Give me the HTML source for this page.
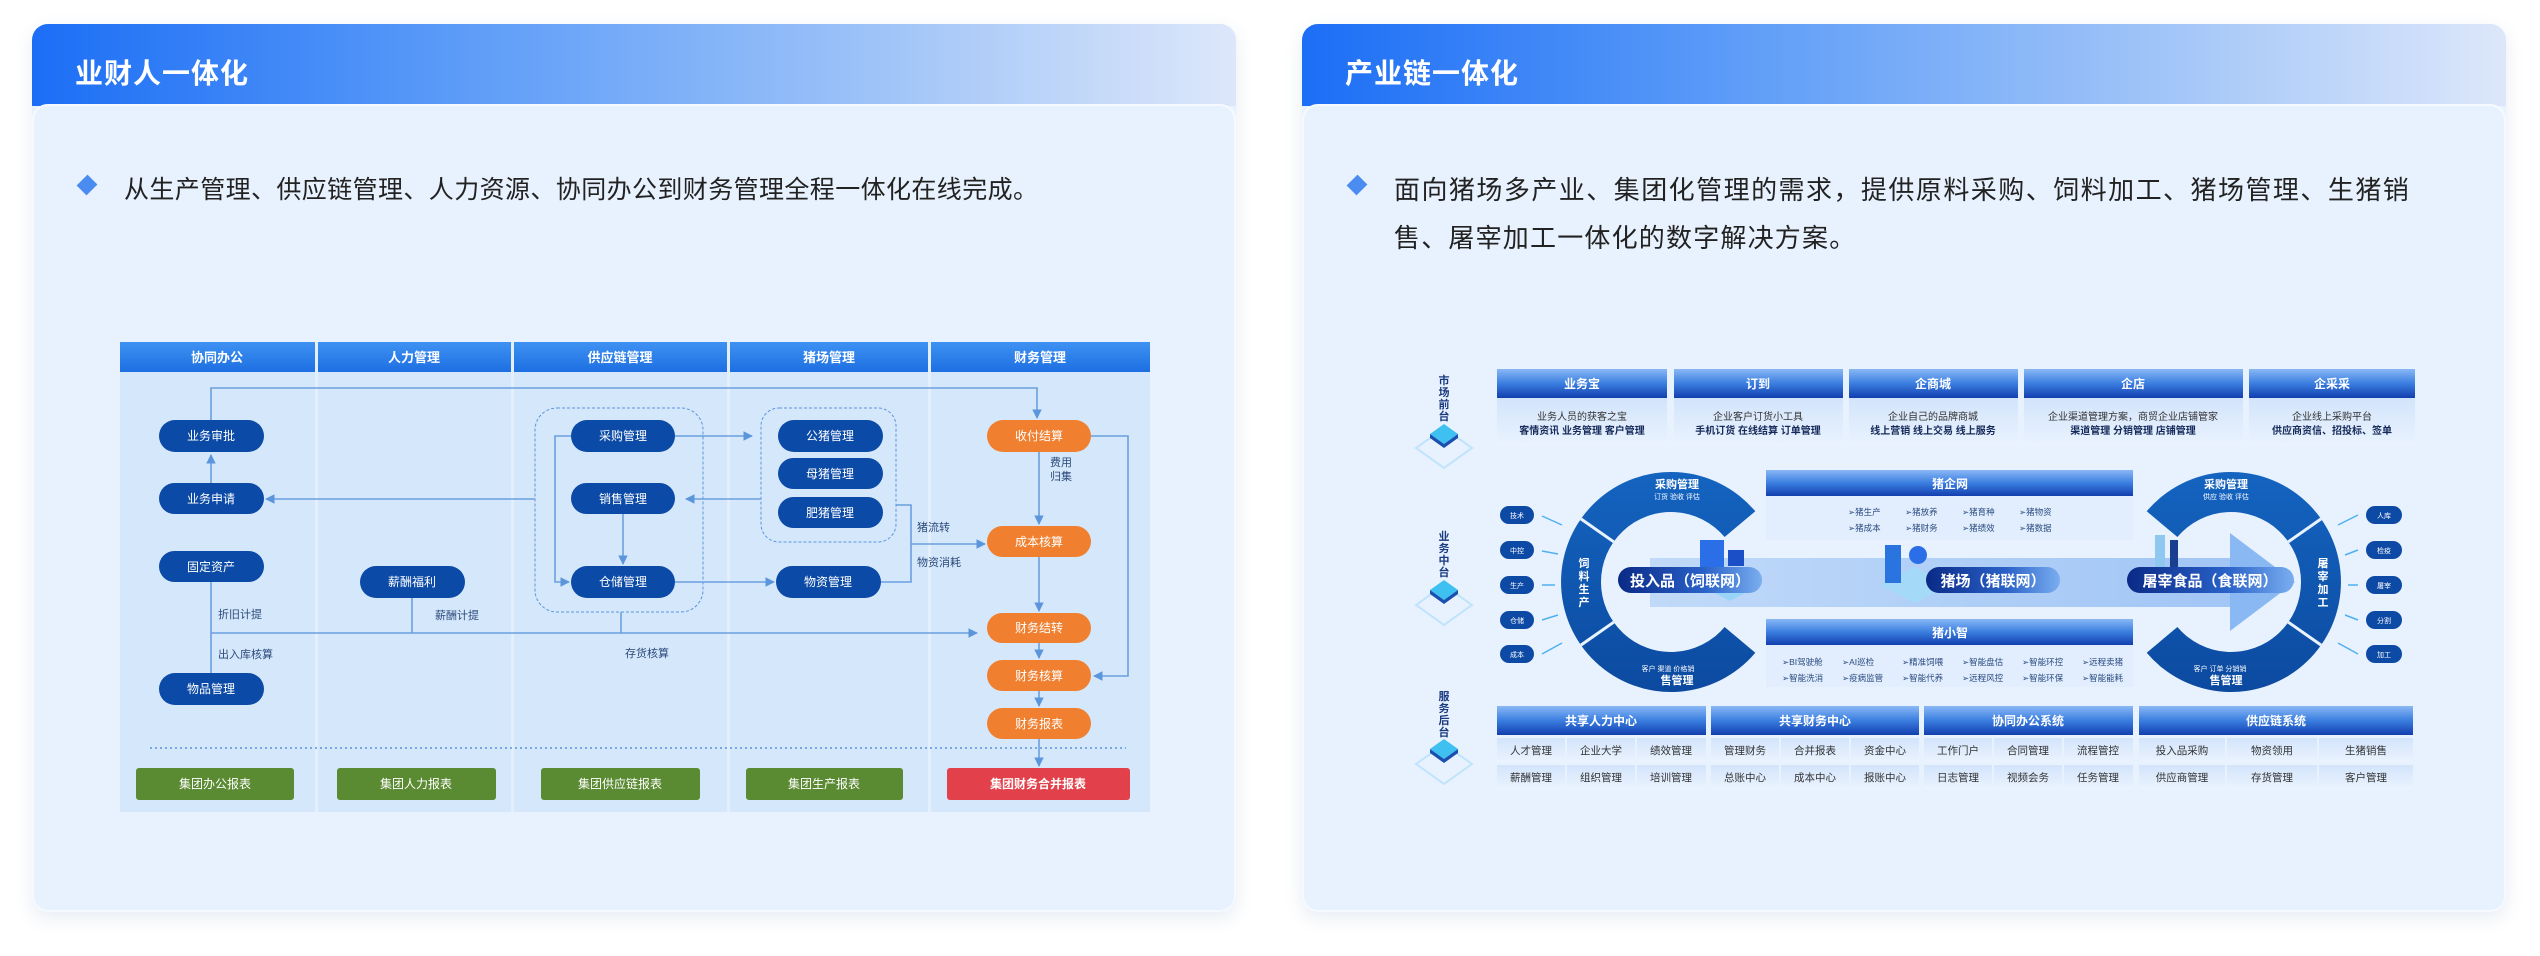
<!DOCTYPE html>
<html><head><meta charset="utf-8"><style>
*{margin:0;padding:0;box-sizing:border-box}
body{width:2540px;height:956px;background:#fff;position:relative;overflow:hidden;font-family:"Liberation Sans","Noto Sans CJK SC",sans-serif}
.card{position:absolute;top:24px;width:1204px;height:888px;border-radius:16px;background:#e9f3fe;box-shadow:0 6px 18px rgba(60,100,160,.12);overflow:hidden}
.hd{height:82px;background:linear-gradient(90deg,#1c6ef6 0%,#5b9bf8 35%,#9ec3f8 70%,#dde7fa 100%);color:#fff;font-size:28px;font-weight:bold;padding:28px 0 0 43px;letter-spacing:1px}
.bd{position:absolute;top:80px;left:0;right:0;bottom:0;background:#e8f2fe;border-radius:16px 16px 16px 16px;border:2px solid #f6faff}
.txt{position:absolute;left:90px;top:60px;font-size:25px;letter-spacing:0.4px;color:#222;line-height:48px;width:1016px;text-align:justify}
.txt.r{font-size:26px;letter-spacing:1.2px}
.dia{position:absolute;left:46px;top:72px;width:14px;height:14px;background:#4b8cf0;transform:rotate(45deg) scaleY(1.1)}
svg{position:absolute;left:0;top:0}
</style></head><body>
<div class="card" style="left:32px"><div class="hd">业财人一体化</div><div class="bd"><div class="dia"></div><div class="txt">从生产管理、供应链管理、人力资源、协同办公到财务管理全程一体化在线完成。</div></div></div>
<div class="card" style="left:1302px"><div class="hd">产业链一体化</div><div class="bd"><div class="dia"></div><div class="txt r">面向猪场多产业、集团化管理的需求，提供原料采购、饲料加工、猪场管理、生猪销售、屠宰加工一体化的数字解决方案。</div></div></div>

<svg width="2540" height="956" viewBox="0 0 2540 956" font-family="Liberation Sans, Noto Sans CJK SC, sans-serif">
<defs>
<linearGradient id="hb" x1="0" y1="0" x2="0" y2="1"><stop offset="0" stop-color="#3f92f2"/><stop offset="1" stop-color="#1d6fe2"/></linearGradient>
<linearGradient id="bh" x1="0" y1="0" x2="0" y2="1"><stop offset="0" stop-color="#8ab8f6"/><stop offset=".5" stop-color="#3a7ee0"/><stop offset="1" stop-color="#133fae"/></linearGradient>
<linearGradient id="cell" x1="0" y1="0" x2="0" y2="1"><stop offset="0" stop-color="#d2e4fb"/><stop offset="1" stop-color="#eaf3fe"/></linearGradient>
<linearGradient id="ring" x1="0" y1="0" x2="0" y2="1"><stop offset="0" stop-color="#1464c0"/><stop offset="1" stop-color="#0c4aa0"/></linearGradient>
<linearGradient id="pill" x1="0" y1="0" x2="1" y2="0"><stop offset="0" stop-color="#0a2a86"/><stop offset=".6" stop-color="#2a62c8"/><stop offset="1" stop-color="#7aaef0"/></linearGradient>
<linearGradient id="band" x1="0" y1="0" x2="1" y2="0"><stop offset="0" stop-color="#b6d3f7"/><stop offset="1" stop-color="#8fbaf3"/></linearGradient>
<marker id="ar" viewBox="0 0 10 10" refX="9" refY="5" markerWidth="6" markerHeight="6" orient="auto"><path d="M0,0L10,5L0,10z" fill="#5b95dc"/></marker>
</defs>

<g>
<rect x="120" y="342" width="1030" height="470" fill="#e4effc"/>
<g fill="#d5e7fb">
<rect x="120" y="372" width="195" height="440"/><rect x="318" y="372" width="193" height="440"/><rect x="514" y="372" width="213" height="440"/><rect x="730" y="372" width="198" height="440"/><rect x="931" y="372" width="219" height="440"/>
</g>
<g fill="url(#hb)">
<rect x="120" y="342" width="195" height="30"/><rect x="318" y="342" width="193" height="30"/><rect x="514" y="342" width="213" height="30"/><rect x="730" y="342" width="198" height="30"/><rect x="931" y="342" width="219" height="30"/>
</g>
<g fill="#fff" font-size="13" font-weight="bold" text-anchor="middle">
<text x="217" y="362">协同办公</text><text x="414" y="362">人力管理</text><text x="620" y="362">供应链管理</text><text x="829" y="362">猪场管理</text><text x="1040" y="362">财务管理</text>
</g>
<rect x="535" y="408" width="168" height="204" rx="22" fill="none" stroke="#5b95dc" stroke-dasharray="3,2"/>
<rect x="761" y="408" width="135" height="134" rx="18" fill="none" stroke="#5b95dc" stroke-dasharray="3,2"/>
<g stroke="#6aa0e0" stroke-width="1.6" fill="none">
<path d="M211 420V388H1037V418" marker-end="url(#ar)"/>
<path d="M211 483V455" marker-end="url(#ar)"/>
<path d="M535 499H266" marker-end="url(#ar)"/>
<path d="M761 499H686" marker-end="url(#ar)"/>
<path d="M675 436H752" marker-end="url(#ar)"/>
<path d="M571 436H555V582H569" marker-end="url(#ar)"/>
<path d="M623 514V564" marker-end="url(#ar)"/>
<path d="M675 582H774" marker-end="url(#ar)"/>
<path d="M896 505H911V582H881"/>
<path d="M911 544H985" marker-end="url(#ar)"/>
<path d="M1039 452V524" marker-end="url(#ar)"/>
<path d="M1039 557V611" marker-end="url(#ar)"/>
<path d="M1039 643V658" marker-end="url(#ar)"/>
<path d="M1039 691V706" marker-end="url(#ar)"/>
<path d="M1039 739V766" marker-end="url(#ar)"/>
<path d="M1091 436H1128V676H1094" marker-end="url(#ar)"/>
<path d="M211 582V673"/>
<path d="M211 633H977" marker-end="url(#ar)"/>
<path d="M412 598V633"/>
<path d="M621 612V633"/>
</g>
<line x1="150" y1="748" x2="1126" y2="748" stroke="#7aa8e4" stroke-width="2" stroke-dasharray="2,3"/>
<g fill="#2a4a7a" font-size="11">
<text x="218" y="618">折旧计提</text><text x="218" y="658">出入库核算</text><text x="435" y="619">薪酬计提</text><text x="625" y="657">存货核算</text>
<text x="917" y="531">猪流转</text><text x="917" y="566">物资消耗</text><text x="1050" y="466">费用</text><text x="1050" y="480">归集</text>
</g>
<g fill="#0b4aa6">
<rect x="159" y="420" width="105" height="32" rx="16"/><rect x="159" y="483" width="105" height="31" rx="15.5"/><rect x="159" y="551" width="105" height="31" rx="15.5"/><rect x="159" y="673" width="105" height="32" rx="16"/>
<rect x="360" y="566" width="105" height="32" rx="16"/>
<rect x="571" y="420" width="104" height="32" rx="16"/><rect x="571" y="483" width="104" height="31" rx="15.5"/><rect x="571" y="566" width="104" height="32" rx="16"/>
<rect x="778" y="420" width="105" height="32" rx="16"/><rect x="778" y="458" width="105" height="31" rx="15.5"/><rect x="778" y="497" width="105" height="31" rx="15.5"/><rect x="776" y="566" width="105" height="32" rx="16"/>
</g>
<g fill="#f08030">
<rect x="987" y="420" width="104" height="32" rx="16"/><rect x="987" y="526" width="104" height="31" rx="15.5"/><rect x="987" y="613" width="104" height="30" rx="15"/><rect x="987" y="660" width="104" height="31" rx="15.5"/><rect x="987" y="708" width="104" height="31" rx="15.5"/>
</g>
<g fill="#5a8a32"><rect x="136" y="768" width="158" height="32" rx="3"/><rect x="337" y="768" width="159" height="32" rx="3"/><rect x="541" y="768" width="159" height="32" rx="3"/><rect x="746" y="768" width="157" height="32" rx="3"/></g>
<rect x="947" y="768" width="183" height="32" rx="3" fill="#e2404a"/>
<g fill="#fff" font-size="12" text-anchor="middle">
<text x="211" y="440">业务审批</text><text x="211" y="503">业务申请</text><text x="211" y="571">固定资产</text><text x="211" y="693">物品管理</text>
<text x="412" y="586">薪酬福利</text>
<text x="623" y="440">采购管理</text><text x="623" y="503">销售管理</text><text x="623" y="586">仓储管理</text>
<text x="830" y="440">公猪管理</text><text x="830" y="478">母猪管理</text><text x="830" y="517">肥猪管理</text><text x="828" y="586">物资管理</text>
<text x="1039" y="440">收付结算</text><text x="1039" y="546">成本核算</text><text x="1039" y="632">财务结转</text><text x="1039" y="680">财务核算</text><text x="1039" y="728">财务报表</text>
<text x="215" y="788">集团办公报表</text><text x="416" y="788">集团人力报表</text><text x="620" y="788">集团供应链报表</text><text x="824" y="788">集团生产报表</text><text x="1038" y="788" font-weight="bold">集团财务合并报表</text>
</g>
</g>

<g>
<g fill="#1a3a80" font-size="11" font-weight="bold" text-anchor="middle">
<text x="1444" y="384">市</text><text x="1444" y="396">场</text><text x="1444" y="408">前</text><text x="1444" y="420">台</text>
<text x="1444" y="540">业</text><text x="1444" y="552">务</text><text x="1444" y="564">中</text><text x="1444" y="576">台</text>
<text x="1444" y="700">服</text><text x="1444" y="712">务</text><text x="1444" y="724">后</text><text x="1444" y="736">台</text>
</g>
<g>
<path d="M1444 428l28 20-28 20-28-20z" fill="none" stroke="#bfe4fb" stroke-width="2"/><path d="M1444 424l14 10-14 10-14-10z" fill="#3ec0f0"/><path d="M1430 434l14 10 14-10v4l-14 10-14-10z" fill="#1a4fb0"/>
<path d="M1444 585l28 20-28 20-28-20z" fill="none" stroke="#bfe4fb" stroke-width="2"/><path d="M1444 580l14 10-14 10-14-10z" fill="#3ec0f0"/><path d="M1430 590l14 10 14-10v4l-14 10-14-10z" fill="#1a4fb0"/>
<path d="M1444 744l28 20-28 20-28-20z" fill="none" stroke="#bfe4fb" stroke-width="2"/><path d="M1444 739l14 10-14 10-14-10z" fill="#3ec0f0"/><path d="M1430 749l14 10 14-10v4l-14 10-14-10z" fill="#1a4fb0"/>
</g>
<g fill="url(#cell)"><rect x="1497" y="398" width="170" height="48"/><rect x="1674" y="398" width="169" height="48"/><rect x="1849" y="398" width="169" height="48"/><rect x="2024" y="398" width="219" height="48"/><rect x="2249" y="398" width="166" height="48"/></g>
<g fill="url(#bh)"><rect x="1497" y="369" width="170" height="29"/><rect x="1674" y="369" width="169" height="29"/><rect x="1849" y="369" width="169" height="29"/><rect x="2024" y="369" width="219" height="29"/><rect x="2249" y="369" width="166" height="29"/></g>
<g fill="#fff" font-size="12" font-weight="bold" text-anchor="middle"><text x="1582" y="388">业务宝</text><text x="1758" y="388">订到</text><text x="1933" y="388">企商城</text><text x="2133" y="388">企店</text><text x="2332" y="388">企采采</text></g>
<g fill="#333" font-size="10" text-anchor="middle"><text x="1582" y="420">业务人员的获客之宝</text><text x="1758" y="420">企业客户订货小工具</text><text x="1933" y="420">企业自己的品牌商城</text><text x="2133" y="420">企业渠道管理方案，商贸企业店铺管家</text><text x="2332" y="420">企业线上采购平台</text></g>
<g fill="#162a5a" font-size="10" font-weight="bold" text-anchor="middle"><text x="1582" y="434">客情资讯 业务管理 客户管理</text><text x="1758" y="434">手机订货 在线结算 订单管理</text><text x="1933" y="434">线上营销 线上交易 线上服务</text><text x="2133" y="434">渠道管理 分销管理 店铺管理</text><text x="2332" y="434">供应商资信、招投标、签单</text></g>
<rect x="1766" y="496" width="367" height="44" fill="#e2eefd"/>
<rect x="1766" y="645" width="367" height="42" fill="#e2eefd"/>
<rect x="1650" y="558" width="590" height="49" fill="url(#band)" opacity=".8"/>
<path d="M2230 533L2295 582L2230 631z" fill="#8ab8f3"/>
<path d="M1755.3 511.3A110 110 0 1 0 1755.3 652.7L1724.6 627A70 70 0 1 1 1724.6 537Z" fill="url(#ring)"/>
<path d="M2146.7 511.3A110 110 0 1 1 2146.7 652.7L2177.4 627A70 70 0 1 0 2177.4 537Z" fill="url(#ring)"/>
<g stroke="#e9f3fe" stroke-width="3"><line x1="1613.7" y1="622.2" x2="1580.9" y2="645.1"/><line x1="1613.7" y1="541.8" x2="1580.9" y2="518.9"/><line x1="2288.3" y1="622.2" x2="2321.1" y2="645.1"/><line x1="2288.3" y1="541.8" x2="2321.1" y2="518.9"/></g>
<g fill="#fff" text-anchor="middle">
<text x="1677" y="488" font-size="11" font-weight="bold">采购管理</text><text x="1677" y="499" font-size="7">订货 验收 评估</text>
<text x="1668" y="671" font-size="7">客户 渠道 价格销</text><text x="1677" y="684" font-size="11" font-weight="bold">售管理</text>
<text x="2226" y="488" font-size="11" font-weight="bold">采购管理</text><text x="2226" y="499" font-size="7">供应 验收 评估</text>
<text x="2220" y="671" font-size="7">客户 订单 分销销</text><text x="2226" y="684" font-size="11" font-weight="bold">售管理</text>
<g font-size="11" font-weight="bold"><text x="1584" y="567">饲</text><text x="1584" y="580">料</text><text x="1584" y="593">生</text><text x="1584" y="606">产</text>
<text x="2323" y="567">屠</text><text x="2323" y="580">宰</text><text x="2323" y="593">加</text><text x="2323" y="606">工</text></g>
</g>
<rect x="1766" y="470" width="367" height="26" fill="url(#bh)"/><rect x="1766" y="619" width="367" height="26" fill="url(#bh)"/>
<g fill="#fff" font-size="12" font-weight="bold" text-anchor="middle"><text x="1950" y="488">猪企网</text><text x="1950" y="637">猪小智</text></g>
<g fill="#2a4a80" font-size="8.5">
<text x="1848" y="515">➢猪生产</text><text x="1905" y="515">➢猪放养</text><text x="1962" y="515">➢猪育种</text><text x="2019" y="515">➢猪物资</text>
<text x="1848" y="531">➢猪成本</text><text x="1905" y="531">➢猪财务</text><text x="1962" y="531">➢猪绩效</text><text x="2019" y="531">➢猪数据</text>
<text x="1782" y="665">➢BI驾驶舱</text><text x="1842" y="665">➢AI巡检</text><text x="1902" y="665">➢精准饲喂</text><text x="1962" y="665">➢智能盘估</text><text x="2022" y="665">➢智能环控</text><text x="2082" y="665">➢远程卖猪</text>
<text x="1782" y="681">➢智能洗消</text><text x="1842" y="681">➢疫病监管</text><text x="1902" y="681">➢智能代养</text><text x="1962" y="681">➢远程风控</text><text x="2022" y="681">➢智能环保</text><text x="2082" y="681">➢智能能耗</text>
</g>
<path d="M1700 585l30-16 30 16-30 16z" fill="#8fd3f7" opacity=".8"/><rect x="1700" y="540" width="24" height="34" fill="#2a6ee8"/><rect x="1728" y="550" width="16" height="16" fill="#1a4fc8"/>
<path d="M1880 585l35-18 35 18-35 18z" fill="#a0dcf8" opacity=".8"/><rect x="1885" y="545" width="16" height="38" fill="#2a74e0"/><circle cx="1918" cy="555" r="9" fill="#2a6ee8"/>
<rect x="2155" y="535" width="10" height="36" fill="#8ec8f0"/><rect x="2170" y="540" width="8" height="32" fill="#1a3f90"/>
<rect x="1618" y="567" width="144" height="26" rx="13" fill="url(#pill)"/><rect x="1926" y="567" width="134" height="26" rx="13" fill="url(#pill)"/><rect x="2127" y="567" width="167" height="26" rx="13" fill="url(#pill)"/>
<g fill="#fff" font-size="15" font-weight="bold" text-anchor="middle"><text x="1690" y="586">投入品（饲联网）</text><text x="1993" y="586">猪场（猪联网）</text><text x="2210" y="586">屠宰食品（食联网）</text></g>
<g fill="#0d4aa6"><rect x="1500" y="506" width="34" height="18" rx="9"/><rect x="1500" y="541" width="34" height="18" rx="9"/><rect x="1500" y="576" width="34" height="18" rx="9"/><rect x="1500" y="611" width="34" height="18" rx="9"/><rect x="1500" y="645" width="34" height="18" rx="9"/>
<rect x="2366" y="506" width="36" height="18" rx="9"/><rect x="2366" y="541" width="36" height="18" rx="9"/><rect x="2366" y="576" width="36" height="18" rx="9"/><rect x="2366" y="611" width="36" height="18" rx="9"/><rect x="2366" y="645" width="36" height="18" rx="9"/></g>
<g fill="#fff" font-size="7" text-anchor="middle"><text x="1517" y="518">技术</text><text x="1517" y="553">中控</text><text x="1517" y="588">生产</text><text x="1517" y="623">仓储</text><text x="1517" y="657">成本</text>
<text x="2384" y="518">人库</text><text x="2384" y="553">检疫</text><text x="2384" y="588">屠宰</text><text x="2384" y="623">分割</text><text x="2384" y="657">加工</text></g>
<g stroke="#4fb0f0" stroke-width="1.5"><line x1="1562" y1="525" x2="1542" y2="516"/><line x1="1558" y1="554" x2="1542" y2="551"/><line x1="1555" y1="585" x2="1542" y2="585"/><line x1="1558" y1="615" x2="1542" y2="620"/><line x1="1562" y1="643" x2="1542" y2="654"/>
<line x1="2338" y1="525" x2="2358" y2="515"/><line x1="2345" y1="555" x2="2358" y2="550"/><line x1="2348" y1="585" x2="2358" y2="585"/><line x1="2345" y1="615" x2="2358" y2="620"/><line x1="2338" y1="643" x2="2358" y2="654"/></g>
<g fill="url(#bh)"><rect x="1497" y="706" width="209" height="29"/><rect x="1711" y="706" width="208" height="29"/><rect x="1924" y="706" width="209" height="29"/><rect x="2139" y="706" width="274" height="29"/></g>
<g fill="#fff" font-size="12" font-weight="bold" text-anchor="middle"><text x="1601" y="725">共享人力中心</text><text x="1815" y="725">共享财务中心</text><text x="2028" y="725">协同办公系统</text><text x="2276" y="725">供应链系统</text></g>
<g fill="url(#cell)">
<rect x="1497" y="738" width="68" height="24"/><rect x="1567" y="738" width="68" height="24"/><rect x="1637" y="738" width="69" height="24"/><rect x="1711" y="738" width="68" height="24"/><rect x="1781" y="738" width="68" height="24"/><rect x="1851" y="738" width="68" height="24"/><rect x="1924" y="738" width="68" height="24"/><rect x="1994" y="738" width="68" height="24"/><rect x="2064" y="738" width="69" height="24"/><rect x="2139" y="738" width="86" height="24"/><rect x="2227" y="738" width="90" height="24"/><rect x="2319" y="738" width="94" height="24"/>
<rect x="1497" y="765" width="68" height="24"/><rect x="1567" y="765" width="68" height="24"/><rect x="1637" y="765" width="69" height="24"/><rect x="1711" y="765" width="68" height="24"/><rect x="1781" y="765" width="68" height="24"/><rect x="1851" y="765" width="68" height="24"/><rect x="1924" y="765" width="68" height="24"/><rect x="1994" y="765" width="68" height="24"/><rect x="2064" y="765" width="69" height="24"/><rect x="2139" y="765" width="86" height="24"/><rect x="2227" y="765" width="90" height="24"/><rect x="2319" y="765" width="94" height="24"/>
</g>
<g fill="#333" font-size="10.5" text-anchor="middle">
<text x="1531" y="754">人才管理</text><text x="1601" y="754">企业大学</text><text x="1671" y="754">绩效管理</text><text x="1745" y="754">管理财务</text><text x="1815" y="754">合并报表</text><text x="1885" y="754">资金中心</text><text x="1958" y="754">工作门户</text><text x="2028" y="754">合同管理</text><text x="2098" y="754">流程管控</text><text x="2182" y="754">投入品采购</text><text x="2272" y="754">物资领用</text><text x="2366" y="754">生猪销售</text>
<text x="1531" y="781">薪酬管理</text><text x="1601" y="781">组织管理</text><text x="1671" y="781">培训管理</text><text x="1745" y="781">总账中心</text><text x="1815" y="781">成本中心</text><text x="1885" y="781">报账中心</text><text x="1958" y="781">日志管理</text><text x="2028" y="781">视频会务</text><text x="2098" y="781">任务管理</text><text x="2182" y="781">供应商管理</text><text x="2272" y="781">存货管理</text><text x="2366" y="781">客户管理</text>
</g>
</g>
</svg>
</body></html>
